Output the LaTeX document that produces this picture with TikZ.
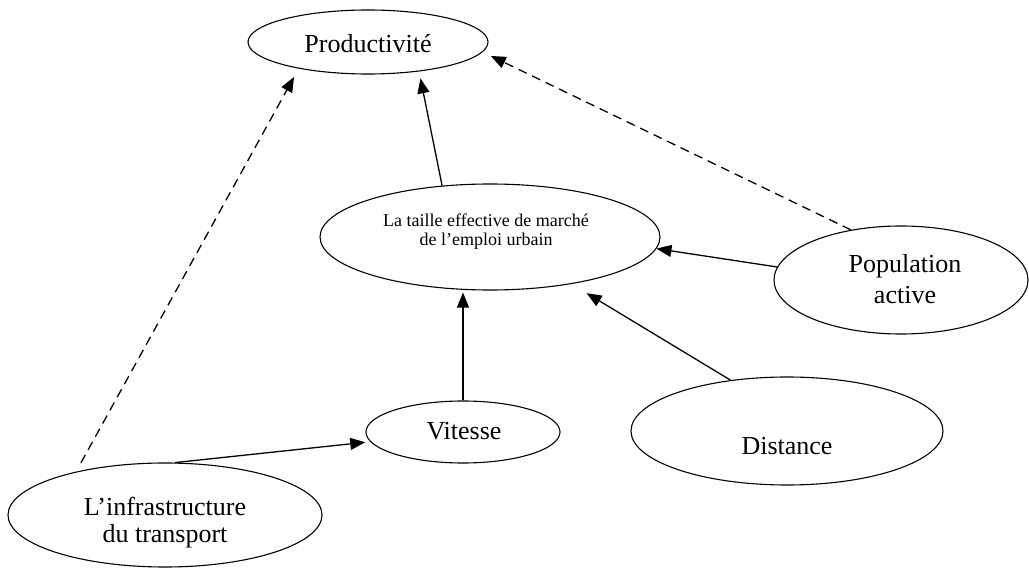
\documentclass[tikz,border=0pt]{standalone}
\usepackage{fontspec}
\setmainfont{Liberation Serif}
\usetikzlibrary{arrows.meta,shapes.geometric}
\begin{document}
\begin{tikzpicture}[x=1pt,y=-1pt,
  oval/.style={draw,ellipse,line width=1.1pt,inner sep=0pt},
  lbl/.style={anchor=base,inner sep=0pt,font=\fontsize{26}{29}\selectfont},
  slbl/.style={anchor=base,inner sep=0pt,font=\fontsize{18}{20}\selectfont},
  arr/.style={line width=1.3pt,-{Triangle[length=15pt,width=12pt]}},
  darr/.style={arr,dash pattern=on 9pt off 6pt}]
\useasboundingbox[fill=white] (0,0) rectangle (1029,569);
% ellipses
\node[oval,minimum width=240pt,minimum height=64pt]  (prod)   at (368,42)  {};
\node[oval,minimum width=340pt,minimum height=106pt] (taille) at (490,237) {};
\node[oval,minimum width=254pt,minimum height=108pt] (pop)    at (901,280) {};
\node[oval,minimum width=194pt,minimum height=62pt]  (vit)    at (463,432) {};
\node[oval,minimum width=312pt,minimum height=108pt] (dist)   at (787,431) {};
\node[oval,minimum width=314pt,minimum height=104pt] (infra)  at (165,515) {};
% texts
\node[lbl]  (prodT)    at (368,53)    {Productivité};
\node[slbl] (tailleT1) at (486,226.5) {La taille effective de marché};
\node[slbl] (tailleT2) at (486,246)   {de l’emploi urbain};
\node[lbl]  (popT1)    at (905,273)   {Population};
\node[lbl]  (popT2)    at (905,303.5) {active};
\node[lbl]  (vitT)     at (464,440)   {Vitesse};
\node[lbl]  (distT)    at (787,455)   {Distance};
\node[lbl]  (infraT1)  at (165,515)   {L’infrastructure};
\node[lbl]  (infraT2)  at (165,542)   {du transport};
% connectors
\draw[arr,shorten >=7pt]   (taille.133.9) -- (prod.-30.4);
\draw[arr]                 (pop.174.6) -- (taille.-4.5);
\draw[darr,shorten >=9pt]  (pop.135.5) -- (prod.-5.1);
\draw[arr,shorten >=17.7pt] (dist.138.5) -- (taille.-30.4);
\draw[arr,shorten >=2pt]   (vit.north) -- (vit.north |- taille.south);
\draw[arr,shorten >=5pt]   (infra.79) -- (vit.186.6);
\draw[darr,shorten <=10pt,shorten >=9.5pt] (infra.154) -- (prod.201.9);
\end{tikzpicture}
\end{document}
